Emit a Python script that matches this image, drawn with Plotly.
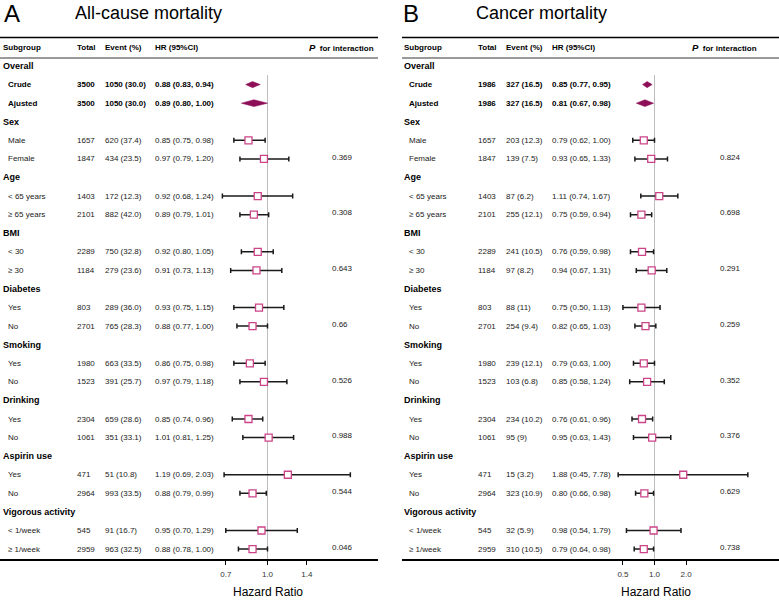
import math
import plotly.graph_objects as go

# ---------------- data ----------------
groups = ["Sex", "Age", "BMI", "Diabetes", "Smoking", "Drinking", "Aspirin use", "Vigorous activity"]
levels = [["Male", "Female"], ["< 65 years", "≥ 65 years"], ["< 30", "≥ 30"], ["Yes", "No"],
          ["Yes", "No"], ["Yes", "No"], ["Yes", "No"], ["< 1/week", "≥ 1/week"]]
overall_labels = ["Crude", "Ajusted"]

# Panel A: all-cause mortality (first two = Crude, Ajusted; then subgroup levels)
A_total = [3500, 3500, 1657, 1847, 1403, 2101, 2289, 1184, 803, 2701, 1980, 1523, 2304, 1061, 471, 2964, 545, 2959]
A_event = ["1050 (30.0)", "1050 (30.0)", "620 (37.4)", "434 (23.5)", "172 (12.3)", "882 (42.0)",
           "750 (32.8)", "279 (23.6)", "289 (36.0)", "765 (28.3)", "663 (33.5)", "391 (25.7)",
           "659 (28.6)", "351 (33.1)", "51 (10.8)", "993 (33.5)", "91 (16.7)", "963 (32.5)"]
A_hr = [0.88, 0.89, 0.85, 0.97, 0.92, 0.89, 0.92, 0.91, 0.93, 0.88, 0.86, 0.97, 0.85, 1.01, 1.19, 0.88, 0.95, 0.88]
A_lo = [0.83, 0.80, 0.75, 0.79, 0.68, 0.79, 0.80, 0.73, 0.75, 0.77, 0.75, 0.79, 0.74, 0.81, 0.69, 0.79, 0.70, 0.78]
A_hi = [0.94, 1.00, 0.98, 1.20, 1.24, 1.01, 1.05, 1.13, 1.15, 1.00, 0.98, 1.18, 0.96, 1.25, 2.03, 0.99, 1.29, 1.00]
A_p = ["0.369", "0.308", "0.643", "0.66", "0.526", "0.988", "0.544", "0.046"]

# Panel B: cancer mortality
B_total = [1986, 1986, 1657, 1847, 1403, 2101, 2289, 1184, 803, 2701, 1980, 1523, 2304, 1061, 471, 2964, 545, 2959]
B_event = ["327 (16.5)", "327 (16.5)", "203 (12.3)", "139 (7.5)", "87 (6.2)", "255 (12.1)",
           "241 (10.5)", "97 (8.2)", "88 (11)", "254 (9.4)", "239 (12.1)", "103 (6.8)",
           "234 (10.2)", "95 (9)", "15 (3.2)", "323 (10.9)", "32 (5.9)", "310 (10.5)"]
B_hr = [0.85, 0.81, 0.79, 0.93, 1.11, 0.75, 0.76, 0.94, 0.75, 0.82, 0.79, 0.85, 0.76, 0.95, 1.88, 0.80, 0.98, 0.79]
B_lo = [0.77, 0.67, 0.62, 0.65, 0.74, 0.59, 0.59, 0.67, 0.50, 0.65, 0.63, 0.58, 0.61, 0.63, 0.45, 0.66, 0.54, 0.64]
B_hi = [0.95, 0.98, 1.00, 1.33, 1.67, 0.94, 0.98, 1.31, 1.13, 1.03, 1.00, 1.24, 0.96, 1.43, 7.78, 0.98, 1.79, 0.98]
B_p = ["0.824", "0.698", "0.291", "0.259", "0.352", "0.376", "0.629", "0.738"]

A_ticks = [0.7, 1.0, 1.4]
B_ticks = [0.5, 1.0, 2.0]

# ---------------- layout helpers ----------------
W, H = 779, 600
ROW0, ROWH = 66.0, 18.58
AXIS_PX = 559.0
FONT = "Liberation Sans, Arial, Helvetica, sans-serif"
DIAMOND = "#8C0F57"
SQUARE = "#CC4488"
TXT = "#222222"


def row_of_px(p):
    return (p - ROW0) / ROWH


def px(x):
    return x / W


# build row structure
rows = [("Overall", "group", None)]
rows += [(lab, "overall", k) for k, lab in enumerate(overall_labels)]
k = 2
for g, lv in zip(groups, levels):
    rows.append((g, "group", None))
    for lab in lv:
        rows.append((lab, "level", k))
        k += 1

fig = go.Figure()
annotations = []
shapes = []


def add_text(x, y, text, size=8, bold=False, anchor="left", color=TXT, yref="y"):
    annotations.append(dict(
        x=px(x), xref="paper", y=y, yref=yref, text=("<b>%s</b>" % text) if bold else text,
        showarrow=False, xanchor=anchor, yanchor="middle",
        font=dict(family=FONT, size=size, color=color)))


def panel(xaxis, cfg, total, event, hr, lo, hi, pv, title, letter, ticks):
    # titles
    add_text(cfg["letter"], 1 - 13 / H, letter, size=24, color="black", yref="paper")
    add_text(cfg["title"], 1 - 13 / H, title, size=18, color="black", yref="paper")
    # header
    yh = row_of_px(47)
    add_text(cfg["sub"], yh, "Subgroup", bold=True, color="black")
    add_text(cfg["tot"], yh, "Total", bold=True, color="black")
    add_text(cfg["ev"], yh, "Event (%)", bold=True, color="black")
    add_text(cfg["hr"], yh, "HR (95%CI)", bold=True, color="black")
    annotations.append(dict(
        x=px(cfg["pint"]), xref="paper", y=yh, yref="y",
        text="<b><i><span style='font-size:9.5px'>P</span></i>  for interaction</b>",
        showarrow=False, xanchor="right", yanchor="middle",
        font=dict(family=FONT, size=8, color="black")))
    # horizontal rules
    shapes.append(dict(type="line", xref="paper", yref="paper", x0=px(cfg["x0"]), x1=px(cfg["x1"]),
                       y0=1 - 37.5 / H, y1=1 - 37.5 / H, line=dict(color="black", width=1.5)))
    shapes.append(dict(type="line", xref="paper", yref="paper", x0=px(cfg["x0"]), x1=px(cfg["x1"]),
                       y0=1 - 58 / H, y1=1 - 58 / H, line=dict(color="black", width=0.8)))
    # reference line at HR = 1
    fig.add_trace(go.Scatter(x=[1, 1], y=[row_of_px(75), row_of_px(AXIS_PX)], mode="lines",
                             line=dict(color="#BDBDBD", width=1), xaxis=xaxis, yaxis="y",
                             hoverinfo="skip"))
    sq_x, sq_y, sq_plus, sq_minus = [], [], [], []
    pi = 0
    for i, (lab, kind, idx) in enumerate(rows):
        if kind == "group":
            add_text(cfg["sub"], i, lab, size=9, bold=True, color="black")
            continue
        bold = kind == "overall"
        add_text(cfg["lab"], i, lab, bold=bold, color="black" if bold else TXT)
        add_text(cfg["tot"], i, str(total[idx]), bold=bold, color="black" if bold else TXT)
        add_text(cfg["ev"], i, event[idx], bold=bold, color="black" if bold else TXT)
        add_text(cfg["hr"], i, "%.2f (%.2f, %.2f)" % (hr[idx], lo[idx], hi[idx]), bold=bold,
                 color="black" if bold else TXT)
        if kind == "overall":
            h = 0.165 if idx == 0 else 0.185
            fig.add_trace(go.Scatter(
                x=[lo[idx], hr[idx], hi[idx], hr[idx], lo[idx]], y=[i, i - h, i, i + h, i],
                mode="lines", fill="toself", fillcolor=DIAMOND, line=dict(color=DIAMOND, width=0.5),
                xaxis=xaxis, yaxis="y", hoverinfo="skip"))
        else:
            sq_x.append(hr[idx]); sq_y.append(i)
            sq_plus.append(hi[idx] - hr[idx]); sq_minus.append(hr[idx] - lo[idx])
            if idx % 2 == 1:
                add_text(cfg["p"], i - 0.1, pv[pi], color=TXT)
                pi += 1
    fig.add_trace(go.Scatter(
        x=sq_x, y=sq_y, mode="markers",
        marker=dict(symbol="square", size=7, color="white", line=dict(color=SQUARE, width=1.3)),
        error_x=dict(type="data", symmetric=False, array=sq_plus, arrayminus=sq_minus,
                     color="#1a1a1a", thickness=1.5, width=2.5),
        xaxis=xaxis, yaxis="y", hoverinfo="skip"))
    add_text(cfg["hrlab"], 1 - 592 / H, "Hazard Ratio", size=12, color="black", anchor="center",
             yref="paper")


cfgA = dict(letter=2, title=73, sub=1, lab=6, tot=75, ev=103, hr=153, p=330, pint=376,
            x0=0, x1=378, hrlab=267.5)
cfgB = dict(letter=401, title=474, sub=402, lab=407.5, tot=476, ev=504, hr=550, p=718, pint=759,
            x0=402, x1=779, hrlab=656)

panel("x", cfgA, A_total, A_event, A_hr, A_lo, A_hi, A_p, "All-cause mortality", "A", A_ticks)
panel("x2", cfgB, B_total, B_event, B_hr, B_lo, B_hi, B_p, "Cancer mortality", "B", B_ticks)


def log_range(d0, d1, one_px, px_per_ln):
    kk = px_per_ln * math.log(10)
    return [(d0 - one_px) / kk, (d1 - one_px) / kk]


axis_common = dict(type="log", showgrid=False, zeroline=False, showline=True, linecolor="black",
                   linewidth=1.5, ticks="outside", ticklen=4, tickwidth=1, tickcolor="black",
                   tickfont=dict(family=FONT, size=8, color="#333333"), anchor="y",
                   ticklabelstandoff=3, fixedrange=True)

fig.update_layout(
    width=W, height=H, margin=dict(l=0, r=0, t=0, b=0),
    paper_bgcolor="white", plot_bgcolor="rgba(0,0,0,0)", showlegend=False,
    xaxis=dict(domain=[0, 378 / W], range=log_range(0, 378, 267.5, 117),
               tickvals=A_ticks, ticktext=["%.1f" % t for t in A_ticks], **axis_common),
    xaxis2=dict(domain=[402 / W, 1], range=log_range(402, 779, 654.5, 45.5),
                tickvals=B_ticks, ticktext=["%.1f" % t for t in B_ticks], **axis_common),
    yaxis=dict(domain=[(H - AXIS_PX) / H, 1], range=[row_of_px(AXIS_PX), row_of_px(0)],
               visible=False, fixedrange=True),
    annotations=annotations, shapes=shapes,
)

fig.write_html("out.html", config={"displayModeBar": False},
               post_script="document.body.style.margin='0';document.body.style.padding='0';")
